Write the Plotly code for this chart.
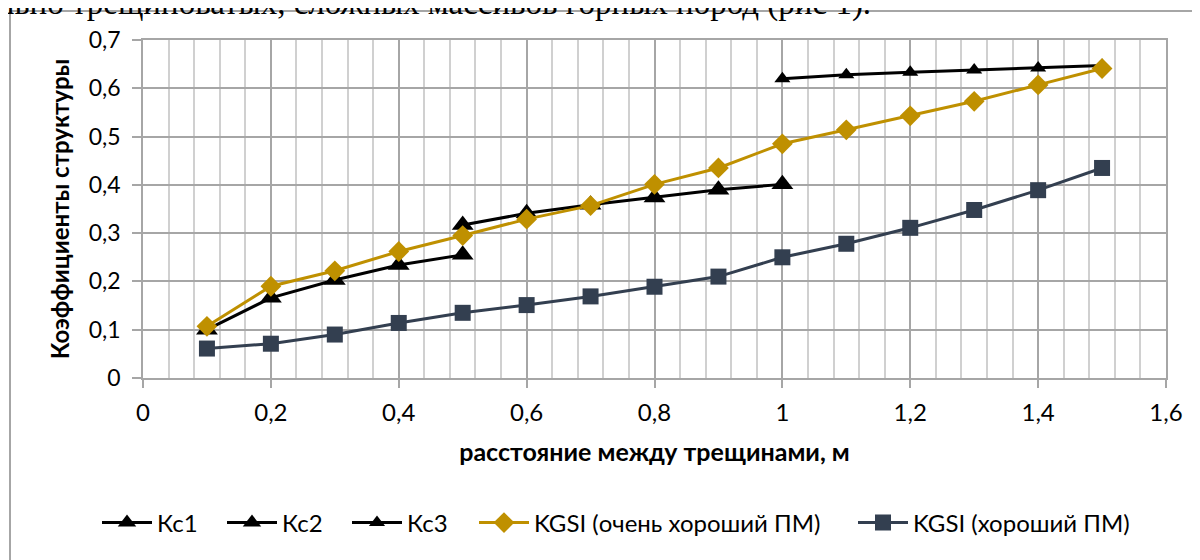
import plotly.graph_objects as go

# ---- data ----
kc1_x = [0.1, 0.2, 0.3, 0.4, 0.5]
kc1_y = [0.100, 0.166, 0.203, 0.234, 0.255]

kc2_x = [0.5, 0.6, 0.7, 0.8, 0.9, 1.0]
kc2_y = [0.317, 0.341, 0.359, 0.374, 0.390, 0.401]

kc3_x = [1.0, 1.1, 1.2, 1.3, 1.4, 1.5]
kc3_y = [0.620, 0.628, 0.633, 0.638, 0.642, 0.647]

gsi_vg_x = [0.1, 0.2, 0.3, 0.4, 0.5, 0.6, 0.7, 0.8, 0.9, 1.0, 1.1, 1.2, 1.3, 1.4, 1.5]
gsi_vg_y = [0.107, 0.190, 0.222, 0.262, 0.295, 0.329, 0.357, 0.401, 0.435, 0.485, 0.514, 0.543, 0.573, 0.607, 0.641]

gsi_g_x = [0.1, 0.2, 0.3, 0.4, 0.5, 0.6, 0.7, 0.8, 0.9, 1.0, 1.1, 1.2, 1.3, 1.4, 1.5]
gsi_g_y = [0.061, 0.071, 0.090, 0.114, 0.135, 0.151, 0.169, 0.189, 0.210, 0.250, 0.278, 0.311, 0.348, 0.389, 0.435]

names = ["Кс1", "Кс2", "Кс3", "KGSI (очень хороший ПМ)", "KGSI (хороший ПМ)"]

x_tickvals = [0, 0.2, 0.4, 0.6, 0.8, 1.0, 1.2, 1.4, 1.6]
x_ticktext = ["0", "0,2", "0,4", "0,6", "0,8", "1", "1,2", "1,4", "1,6"]
y_tickvals = [0, 0.1, 0.2, 0.3, 0.4, 0.5, 0.6, 0.7]
y_ticktext = ["0", "0,1", "0,2", "0,3", "0,4", "0,5", "0,6", "0,7"]

x_title = "расстояние между трещинами, м"
y_title = "Коэффициенты структуры"
top_text = "льно трещиноватых, сложных массивов горных пород (рис 1)."

FONT = "Lato, 'Liberation Sans', sans-serif"
BLACK = "#000000"
GOLD = "#BF9000"
NAVY = "#333F50"

fig = go.Figure()
series = [
    (kc1_x, kc1_y, names[0], BLACK, "triangle-up", 19, "legend"),
    (kc2_x, kc2_y, names[1], BLACK, "triangle-up", 19, "legend2"),
    (kc3_x, kc3_y, names[2], BLACK, "triangle-up", 14, "legend3"),
    (gsi_vg_x, gsi_vg_y, names[3], GOLD, "diamond", 16, "legend4"),
    (gsi_g_x, gsi_g_y, names[4], NAVY, "square", 16, "legend5"),
]
for xs, ys, nm, col, sym, sz, lg in series:
    fig.add_trace(go.Scatter(
        x=xs, y=ys, name=nm, mode="lines+markers",
        line=dict(color=col, width=3),
        marker=dict(symbol=sym, size=sz, color=col, line=dict(width=0)),
        legend=lg,
    ))

# page places the figure with an 8px body margin; work in screen pixels
OFF = 8
W, H = 1200, 560
PL, PR, PT, PB = 143, 1166, 40, 378     # plot area on screen
L = PL - OFF
T = PT - OFF
R = W - (PR - OFF)
B = H - (PB - OFF)
pw = PR - PL
ph = PB - PT

def px2x(px):
    return (px - PL) / pw

def py2y(py):
    return (PB - py) / ph

legend_common = dict(
    orientation="h", yanchor="middle", xanchor="left",
    font=dict(family=FONT, size=24, color="#000000"),
    bgcolor="rgba(0,0,0,0)", itemwidth=50, borderwidth=0,
    tracegroupgap=0,
)
leg_text_x = [160, 285, 410, 537, 916]
layout_legends = {}
for i, tx in enumerate(leg_text_x):
    key = "legend" if i == 0 else f"legend{i+1}"
    layout_legends[key] = dict(legend_common, x=px2x(tx - 63), y=py2y(523))

fig.update_layout(
    width=W, height=H,
    margin=dict(l=L, r=R, t=T, b=B),
    paper_bgcolor="white", plot_bgcolor="white",
    font=dict(family=FONT, size=24, color="#000000"),
    showlegend=True,
    **layout_legends,
)

fig.update_xaxes(
    range=[0, 1.6], tickvals=x_tickvals, ticktext=x_ticktext,
    showgrid=True, gridcolor="#A6A6A6", gridwidth=1.5,
    minor=dict(dtick=0.04, tick0=0, showgrid=True, gridcolor="#D0D0D0", gridwidth=1.5),
    ticks="outside", ticklen=8, tickcolor="#A6A6A6", tickwidth=1.5,
    showline=True, linecolor="#A6A6A6", linewidth=1.5, mirror=True,
    zeroline=False,
    tickfont=dict(family=FONT, size=24),
    ticklabelstandoff=4,
    title=dict(text="<b>" + x_title + "</b>", font=dict(family=FONT, size=25), standoff=19),
)
fig.update_yaxes(
    range=[0, 0.7], tickvals=y_tickvals, ticktext=y_ticktext,
    showgrid=True, gridcolor="#A6A6A6", gridwidth=1.5,
    ticks="outside", ticklen=9, tickcolor="#A6A6A6", tickwidth=1.5,
    showline=True, linecolor="#A6A6A6", linewidth=1.5, mirror=True,
    zeroline=False,
    tickfont=dict(family=FONT, size=23),
    ticklabelstandoff=7,
    title=dict(text="<b>" + y_title + "</b>", font=dict(family=FONT, size=24), standoff=12),
)

# outer chart frame (cropped by the picture edges)
fig.add_shape(type="rect", xref="paper", yref="paper",
              x0=px2x(10), x1=px2x(1260), y0=py2y(620), y1=py2y(11),
              line=dict(color="#A6A6A6", width=2), fillcolor="rgba(0,0,0,0)", layer="below")

# document text cut off at the top
fig.add_annotation(text=top_text, xref="paper", yref="paper",
                   x=px2x(-4), y=py2y(4), xanchor="left", yanchor="middle",
                   showarrow=False,
                   font=dict(family="'Liberation Serif', 'Times New Roman', serif", size=33, color="#000000"))

fig.write_html("out.html")
